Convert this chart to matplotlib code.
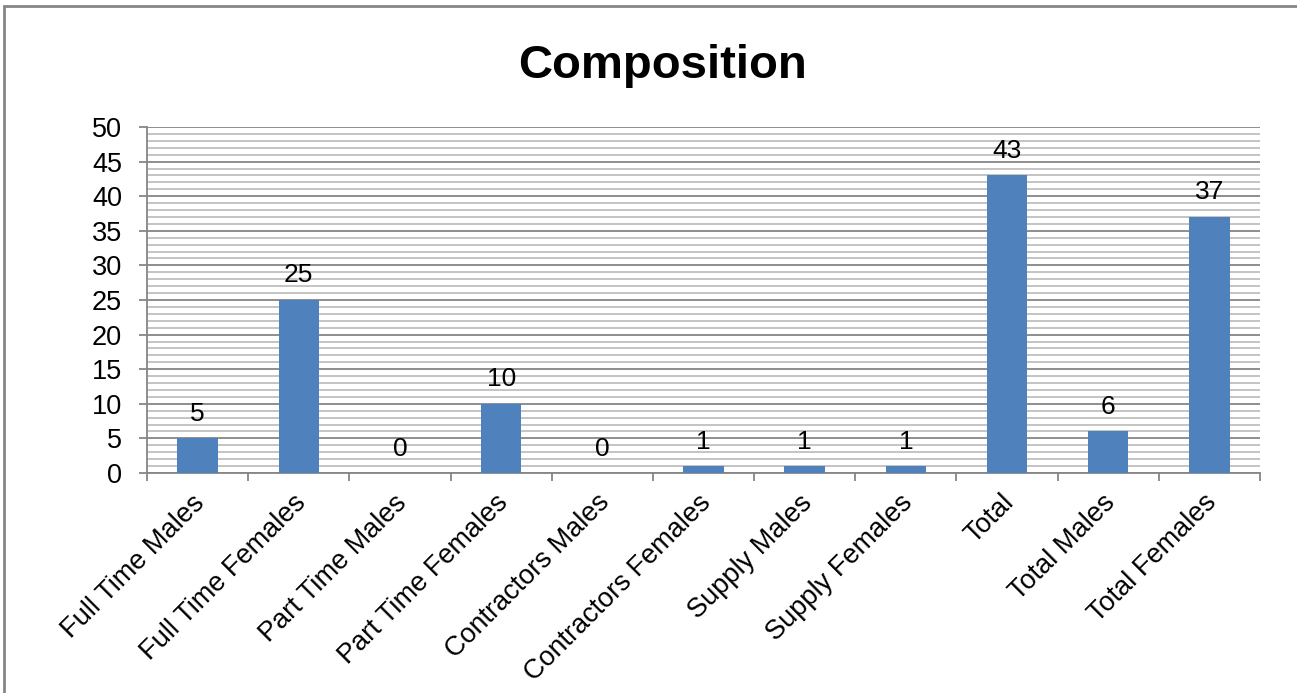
import numpy as np
import matplotlib.pyplot as plt
import matplotlib.transforms as mtransforms
from matplotlib.patches import Rectangle

plt.rcParams['font.family'] = ['Liberation Sans', 'DejaVu Sans']

# Data
categories = ["Full Time Males", "Full Time Females", "Part Time Males",
              "Part Time Females", "Contractors Males", "Contractors Females",
              "Supply Males", "Supply Females", "Total", "Total Males",
              "Total Females"]
values = [5, 25, 0, 10, 0, 1, 1, 1, 43, 6, 37]

bar_color = "#4F81BD"
major_grid = "#868686"
minor_grid = "#BFBFBF"

fig = plt.figure(figsize=(12.97, 6.93), dpi=100)
ax = fig.add_axes([147 / 1297, 1 - 473 / 693, (1260 - 147) / 1297, (473 - 127) / 693])

x = np.arange(len(categories))
ax.bar(x, values, width=0.4, color=bar_color, zorder=3)

# value labels above bars
for xi, v in zip(x, values):
    ax.annotate(str(v), (xi, v), xytext=(0, 9), textcoords="offset points",
                ha="center", va="bottom", fontsize=19)

ax.set_xlim(-0.5, len(categories) - 0.5)
ax.set_ylim(0, 50)
ax.set_yticks(np.arange(0, 51, 5))
ax.set_yticks(np.arange(0, 51, 1), minor=True)
ax.grid(True, which="major", axis="y", color=major_grid, linewidth=1.3, zorder=0)
ax.grid(True, which="minor", axis="y", color=minor_grid, linewidth=1.3, zorder=0)

# x ticks at category boundaries, labels at centers
ax.set_xticks(x)
ax.set_xticklabels(categories, rotation=45, ha="right", rotation_mode="anchor",
                   fontsize=19.5)
ax.set_xticks(np.arange(-0.5, len(categories), 1), minor=True)
ax.tick_params(axis="x", which="major", length=0, pad=12)
ax.tick_params(axis="x", which="minor", length=6, color=major_grid, width=1.3)
ax.tick_params(axis="y", which="major", length=6, color=major_grid, width=1.3,
               labelsize=19.5, pad=12)
ax.tick_params(axis="y", which="minor", length=0)

offset = mtransforms.ScaledTranslation(-6 / 100, 0, fig.dpi_scale_trans)
for lbl in ax.get_xticklabels():
    lbl.set_transform(lbl.get_transform() + offset)

for side in ["top", "right"]:
    ax.spines[side].set_visible(False)
for side in ["left", "bottom"]:
    ax.spines[side].set_color(major_grid)
    ax.spines[side].set_linewidth(1.3)

fig.text(663 / 1297, 1 - 66 / 693, "Composition", ha="center", va="center",
         fontsize=34, fontweight="bold")

# chart border
fig.patches.append(Rectangle((3.5 / 1297, -0.1), 1.2, 1.1 - 6 / 693,
                             transform=fig.transFigure, fill=False,
                             edgecolor=major_grid, linewidth=2))

fig.savefig("out.png", dpi=100)
